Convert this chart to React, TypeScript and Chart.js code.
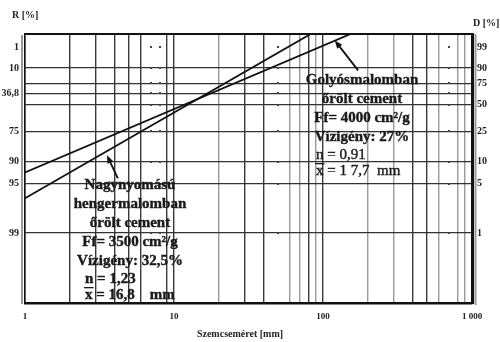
import { useEffect, useRef } from "react";
import { Chart, registerables } from "chart.js";

Chart.register(...registerables);

// ---- data ----
// residue R [%] grid/tick positions (left axis)
const residueTicks = [1, 10, 25, 36.8, 50, 75, 90, 95, 99];
const residueLabels = ["1", "10", "", "36,8", "", "75", "90", "95", "99"];
// passing D [%] tick positions (right axis)
const passingTicks = [99, 90, 75, 50, 25, 10, 5, 1];
const passingLabels = ["99", "90", "75", "50", "25", "10", "5", "1"];
// particle size [mm] grid positions
const sizeTicks = [
  1, 2, 3, 4, 5, 6, 7, 8, 9,
  10, 20, 30, 40, 50, 60, 70, 80, 90,
  100, 200, 300, 400, 500, 600, 700, 800, 900,
  1000,
];
const sizeLabelValues = [1, 10, 100, 1000];
const sizeLabelTexts = ["1", "10", "100", "1 000"];

// grid styling groups (as printed on the scanned diagram)
const dottedSizes = [7, 8, 50, 700];
const lightSizes = [20, 60, 70, 90, 200, 300, 600, 800, 900];

// roller mill cement (n = 1.23, x' = 16.8 mm): points
const rollerSizes = [1, 100];
const rollerResidue = [96.9, 0.013];
// ball mill cement (n = 0.91, x' = 17.7 mm)
const ballSizes = [1, 200];
const ballResidue = [92.9, 0.012];

// arrows (size mm, residue %): tail -> head
const rollerArrowSizes = [4.2, 3.55];
const rollerArrowResidue = [94.1, 87.8];
const ballArrowSizes = [172, 120];
const ballArrowResidue = [11.8, 0.33];

// Rosin-Rammler ordinate transform
const rr = (R: number) => Math.log10(Math.log(100 / R));

const SERIF = '"Liberation Serif", "Times New Roman", serif';

function drawArrow(ctx: CanvasRenderingContext2D, x1: number, y1: number, x2: number, y2: number) {
  const ang = Math.atan2(y2 - y1, x2 - x1);
  const hl = 8;
  const hw = 3.2;
  ctx.beginPath();
  ctx.moveTo(x1, y1);
  ctx.lineTo(x2 - Math.cos(ang) * hl * 0.7, y2 - Math.sin(ang) * hl * 0.7);
  ctx.stroke();
  ctx.beginPath();
  ctx.moveTo(x2, y2);
  ctx.lineTo(x2 - Math.cos(ang) * hl - Math.sin(ang) * hw, y2 - Math.sin(ang) * hl + Math.cos(ang) * hw);
  ctx.lineTo(x2 - Math.cos(ang) * hl + Math.sin(ang) * hw, y2 - Math.sin(ang) * hl - Math.cos(ang) * hw);
  ctx.closePath();
  ctx.fill();
}

function heavyText(ctx: CanvasRenderingContext2D, t: string, x: number, y: number) {
  ctx.fillText(t, x, y);
  ctx.strokeText(t, x, y);
}

function drawXbar(ctx: CanvasRenderingContext2D, x: number, y: number, rest: string, heavy: boolean) {
  ctx.textAlign = "left";
  if (heavy) heavyText(ctx, "x", x, y);
  else ctx.fillText("x", x, y);
  const w = ctx.measureText("x").width;
  ctx.fillRect(x - 1, y - 8, w + 2, 1.3);
  if (heavy) heavyText(ctx, rest, x + w, y);
  else ctx.fillText(rest, x + w, y);
}

const annotationPlugin = {
  id: "rrAnnotations",
  afterDraw(chart: any) {
    const { ctx, chartArea: a, scales } = chart;
    const xs = scales.x;
    const ys = scales.y;
    ctx.save();
    // dotted minor verticals: dots at the horizontal grid rows
    ctx.fillStyle = "#444";
    for (const v of dottedSizes) {
      const px = Math.round(xs.getPixelForValue(v));
      for (const r of residueTicks) {
        const py = Math.round(ys.getPixelForValue(rr(r)));
        ctx.fillRect(px - 1, py - 1, 2, 2);
      }
    }
    // top frame
    ctx.strokeStyle = "#111";
    ctx.lineWidth = 2;
    ctx.beginPath();
    ctx.moveTo(a.left, a.top);
    ctx.lineTo(a.right + 1, a.top);
    ctx.stroke();
    // grey double rules on the left and right
    ctx.strokeStyle = "#9a9a9a";
    ctx.lineWidth = 2;
    ctx.beginPath();
    ctx.moveTo(a.left - 3, a.top + 1);
    ctx.lineTo(a.left - 3, a.bottom + 1);
    ctx.moveTo(a.right + 3.5, a.top);
    ctx.lineTo(a.right + 3.5, a.bottom + 2);
    ctx.stroke();

    // arrows
    ctx.strokeStyle = "#111";
    ctx.fillStyle = "#111";
    ctx.lineWidth = 1.8;
    drawArrow(
      ctx,
      xs.getPixelForValue(rollerArrowSizes[0]), ys.getPixelForValue(rr(rollerArrowResidue[0])),
      xs.getPixelForValue(rollerArrowSizes[1]), ys.getPixelForValue(rr(rollerArrowResidue[1]))
    );
    drawArrow(
      ctx,
      xs.getPixelForValue(ballArrowSizes[0]), ys.getPixelForValue(rr(ballArrowResidue[0])),
      xs.getPixelForValue(ballArrowSizes[1]), ys.getPixelForValue(rr(ballArrowResidue[1]))
    );

    // annotation texts
    ctx.fillStyle = "#1a1a1a";
    ctx.strokeStyle = "#1a1a1a";
    ctx.lineWidth = 0.4;
    ctx.textBaseline = "middle";
    ctx.font = `bold 15px ${SERIF}`;
    ctx.textAlign = "center";
    const g = 362;
    heavyText(ctx, "Golyósmalomban", g, 80);
    heavyText(ctx, "őrölt cement", g, 99);
    heavyText(ctx, "Ff= 4000 cm²/g", g, 118);
    heavyText(ctx, "Vízigény: 27%", g, 137);
    ctx.font = `15px ${SERIF}`;
    ctx.textAlign = "left";
    heavyText(ctx, "n = 0,91", 316, 155);
    drawXbar(ctx, 316, 171, " = 1 7,7  mm", true);

    ctx.font = `bold 15px ${SERIF}`;
    ctx.textAlign = "center";
    const h = 130;
    heavyText(ctx, "Nagynyomású", h, 185);
    heavyText(ctx, "hengermalomban", h, 204);
    heavyText(ctx, "őrölt cement", h, 223);
    heavyText(ctx, "Ff= 3500 cm²/g", h, 242);
    heavyText(ctx, "Vízigény: 32,5%", h, 261);
    ctx.textAlign = "left";
    heavyText(ctx, "n = 1,23", 85, 279);
    drawXbar(ctx, 85, 295, " = 16,8    mm", true);

    // axis titles
    ctx.font = `bold 10px ${SERIF}`;
    ctx.fillStyle = "#222";
    ctx.textAlign = "left";
    ctx.fillText("R [%]", 12, 15);
    ctx.fillText("D [%]", 473, 23);
    ctx.textAlign = "center";
    ctx.fillText("Szemcseméret [mm]", 240, 334);
    ctx.restore();
  },
};

export default function App() {
  const ref = useRef<HTMLCanvasElement | null>(null);

  useEffect(() => {
    if (!ref.current) return;
    const yMin = -3.0;
    const yMax = 0.85;
    const chart = new Chart(ref.current, {
      type: "line",
      data: {
        datasets: [
          {
            label: "Nagynyomású hengermalomban őrölt cement",
            data: rollerSizes.map((s, i) => ({ x: s, y: rr(rollerResidue[i]) })),
            borderColor: "#111",
            borderWidth: 1.8,
            pointRadius: 0,
            fill: false,
          },
          {
            label: "Golyósmalomban őrölt cement",
            data: ballSizes.map((s, i) => ({ x: s, y: rr(ballResidue[i]) })),
            borderColor: "#111",
            borderWidth: 1.8,
            pointRadius: 0,
            fill: false,
          },
        ],
      },
      options: {
        responsive: false,
        animation: false,
        events: [],
        layout: { padding: { top: 34, left: 0, right: 0, bottom: 0 } },
        plugins: {
          legend: { display: false },
          tooltip: { enabled: false },
          title: { display: false },
        },
        scales: {
          x: {
            type: "logarithmic",
            min: 1,
            max: 1000,
            afterBuildTicks: (s: any) => {
              s.ticks = sizeTicks.map((v) => ({ value: v }));
            },
            afterFit: (s: any) => {
              s.height = 39;
            },
            ticks: {
              autoSkip: false,
              maxRotation: 0,
              padding: 8,
              color: "#222",
              font: { family: SERIF, size: 9, weight: "bold" },
              callback: (v: any) => {
                const idx = sizeLabelValues.indexOf(Number(v));
                return idx >= 0 ? sizeLabelTexts[idx] : "";
              },
            },
            grid: {
              drawTicks: false,
              color: (c: any) => {
                const v = Number(c.tick?.value);
                if (dottedSizes.includes(v)) return "rgba(0,0,0,0)";
                if (lightSizes.includes(v)) return "#9a9a9a";
                return "#3a3a3a";
              },
              lineWidth: 1.4,
            },
            border: { display: true, color: "#111", width: 2.5 },
          },
          y: {
            type: "linear",
            position: "left",
            min: yMin,
            max: yMax,
            afterBuildTicks: (s: any) => {
              s.ticks = residueTicks.map((r) => ({ value: rr(r) }));
            },
            afterFit: (s: any) => {
              s.width = 25;
            },
            ticks: {
              autoSkip: false,
              padding: 6,
              color: "#222",
              font: { family: SERIF, size: 10, weight: "bold" },
              callback: (_v: any, i: number) => residueLabels[i] ?? "",
            },
            grid: {
              drawTicks: false,
              color: (c: any) => (c.index === 0 ? "rgba(0,0,0,0)" : "#333"),
              lineWidth: 1.2,
            },
            border: { display: true, color: "#111", width: 1.5 },
          },
          y2: {
            type: "linear",
            position: "right",
            min: yMin,
            max: yMax,
            afterBuildTicks: (s: any) => {
              s.ticks = passingTicks.map((d) => ({ value: rr(100 - d) }));
            },
            afterFit: (s: any) => {
              s.width = 28;
            },
            ticks: {
              autoSkip: false,
              padding: 5,
              color: "#222",
              font: { family: SERIF, size: 10, weight: "bold" },
              callback: (_v: any, i: number) => passingLabels[i] ?? "",
            },
            grid: { display: false, drawOnChartArea: false, drawTicks: false },
            border: { display: true, color: "#111", width: 3 },
          },
        },
      },
      plugins: [annotationPlugin],
    } as any);
    return () => chart.destroy();
  }, []);

  return (
    <div style={{ position: "fixed", left: 0, top: 0, width: 500, height: 342, background: "#fff" }}>
      <canvas ref={ref} width={500} height={342} style={{ display: "block", width: 500, height: 342 }} />
    </div>
  );
}
